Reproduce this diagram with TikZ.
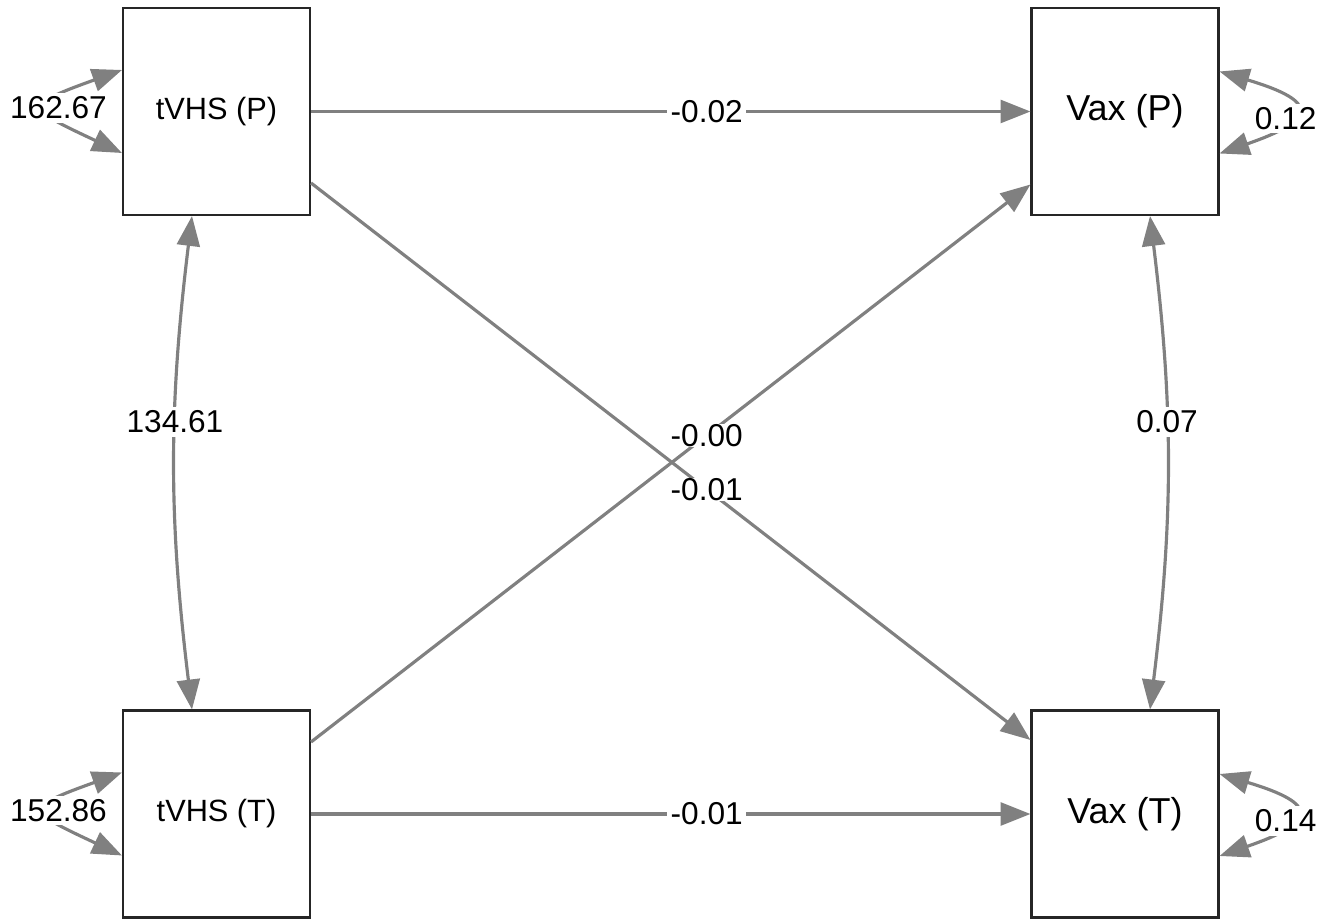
\documentclass[tikz,border=0pt]{standalone}
\usepackage{fontspec}
\setmainfont{Liberation Sans}
\usetikzlibrary{arrows.meta,calc}
\definecolor{pathgray}{HTML}{808080}
\definecolor{boxline}{HTML}{262626}

\tikzset{
  var/.style={draw=boxline, line width=1.2pt, minimum width=3.74cm,
    minimum height=4.14cm, inner sep=0pt, font=\fontsize{17.5}{20}\selectfont},
  outvar/.style={var, font=\fontsize{20.5}{24}\selectfont},
  reg/.style={draw=pathgray, line width=1.8pt,
    -{Triangle[length=17pt,width=13pt]}},
  cov/.style={draw=pathgray, line width=1.8pt,
    {Triangle[length=17pt,width=13pt]}-{Triangle[length=17pt,width=13pt]}},
  coef/.style={fill=white, inner sep=2pt, text=black,
    font=\fontsize{18}{21}\selectfont}
}

\begin{document}
\begin{tikzpicture}[x=0.02cm, y=0.02cm]
    \useasboundingbox (0,0) rectangle (1335,919);

    % observed variables
    \node[var]    (tP) at (216.5, 807.5) {tVHS (P)};
    \node[outvar] (vP) at (1125, 807.5)  {Vax (P)};
    \node[var]    (tT) at (216.5, 105)   {tVHS (T)};
    \node[outvar] (vT) at (1125, 105)    {Vax (T)};

    % regressions
    \draw[reg] (tP.east) -- (vP.west)
      node[coef, pos=0.55] {-0.02};
    \draw[reg] (tT.east) -- (vT.west)
      node[coef, pos=0.55] {-0.01};
    \draw[reg] ($(tP.east)+(0,-71.5)$) -- ($(vT.west)+(0,74)$)
      node[coef, pos=0.55, inner sep=0pt] {-0.01};
    \draw[reg] ($(tT.east)+(0,72)$) -- ($(vP.west)+(0,-73)$)
      node[coef, pos=0.55, inner sep=0pt] {-0.00};

    % covariances
    \draw[cov] ($(tP.south)+(-24.5,0)$) to[bend right=7]
      node[coef, pos=0.41] {134.61} ($(tT.north)+(-24.5,0)$);
    \draw[cov] ($(vP.south)+(25,0)$) to[bend left=7]
      node[coef, pos=0.41] {0.07} ($(vT.north)+(25,0)$);

    % variances
    \draw[cov] ($(tP.west)+(0,41.5)$) .. controls +(-100,-36) and +(-96,45)
      .. ($(tP.west)+(0,-41.5)$) node[coef, pos=0.5, xshift=0.2cm] {162.67};
    \draw[cov] ($(tT.west)+(0,41.5)$) .. controls +(-100,-36) and +(-96,45)
      .. ($(tT.west)+(0,-41.5)$) node[coef, pos=0.5, xshift=0.2cm] {152.86};
    \draw[cov] ($(vP.east)+(0,40)$) .. controls +(100,-30) and +(98,34)
      .. ($(vP.east)+(0,-42)$) node[coef, pos=0.6, xshift=-0.1cm] {0.12};
    \draw[cov] ($(vT.east)+(0,40)$) .. controls +(100,-30) and +(98,34)
      .. ($(vT.east)+(0,-42)$) node[coef, pos=0.6, xshift=-0.1cm] {0.14};
\end{tikzpicture}
\end{document}
